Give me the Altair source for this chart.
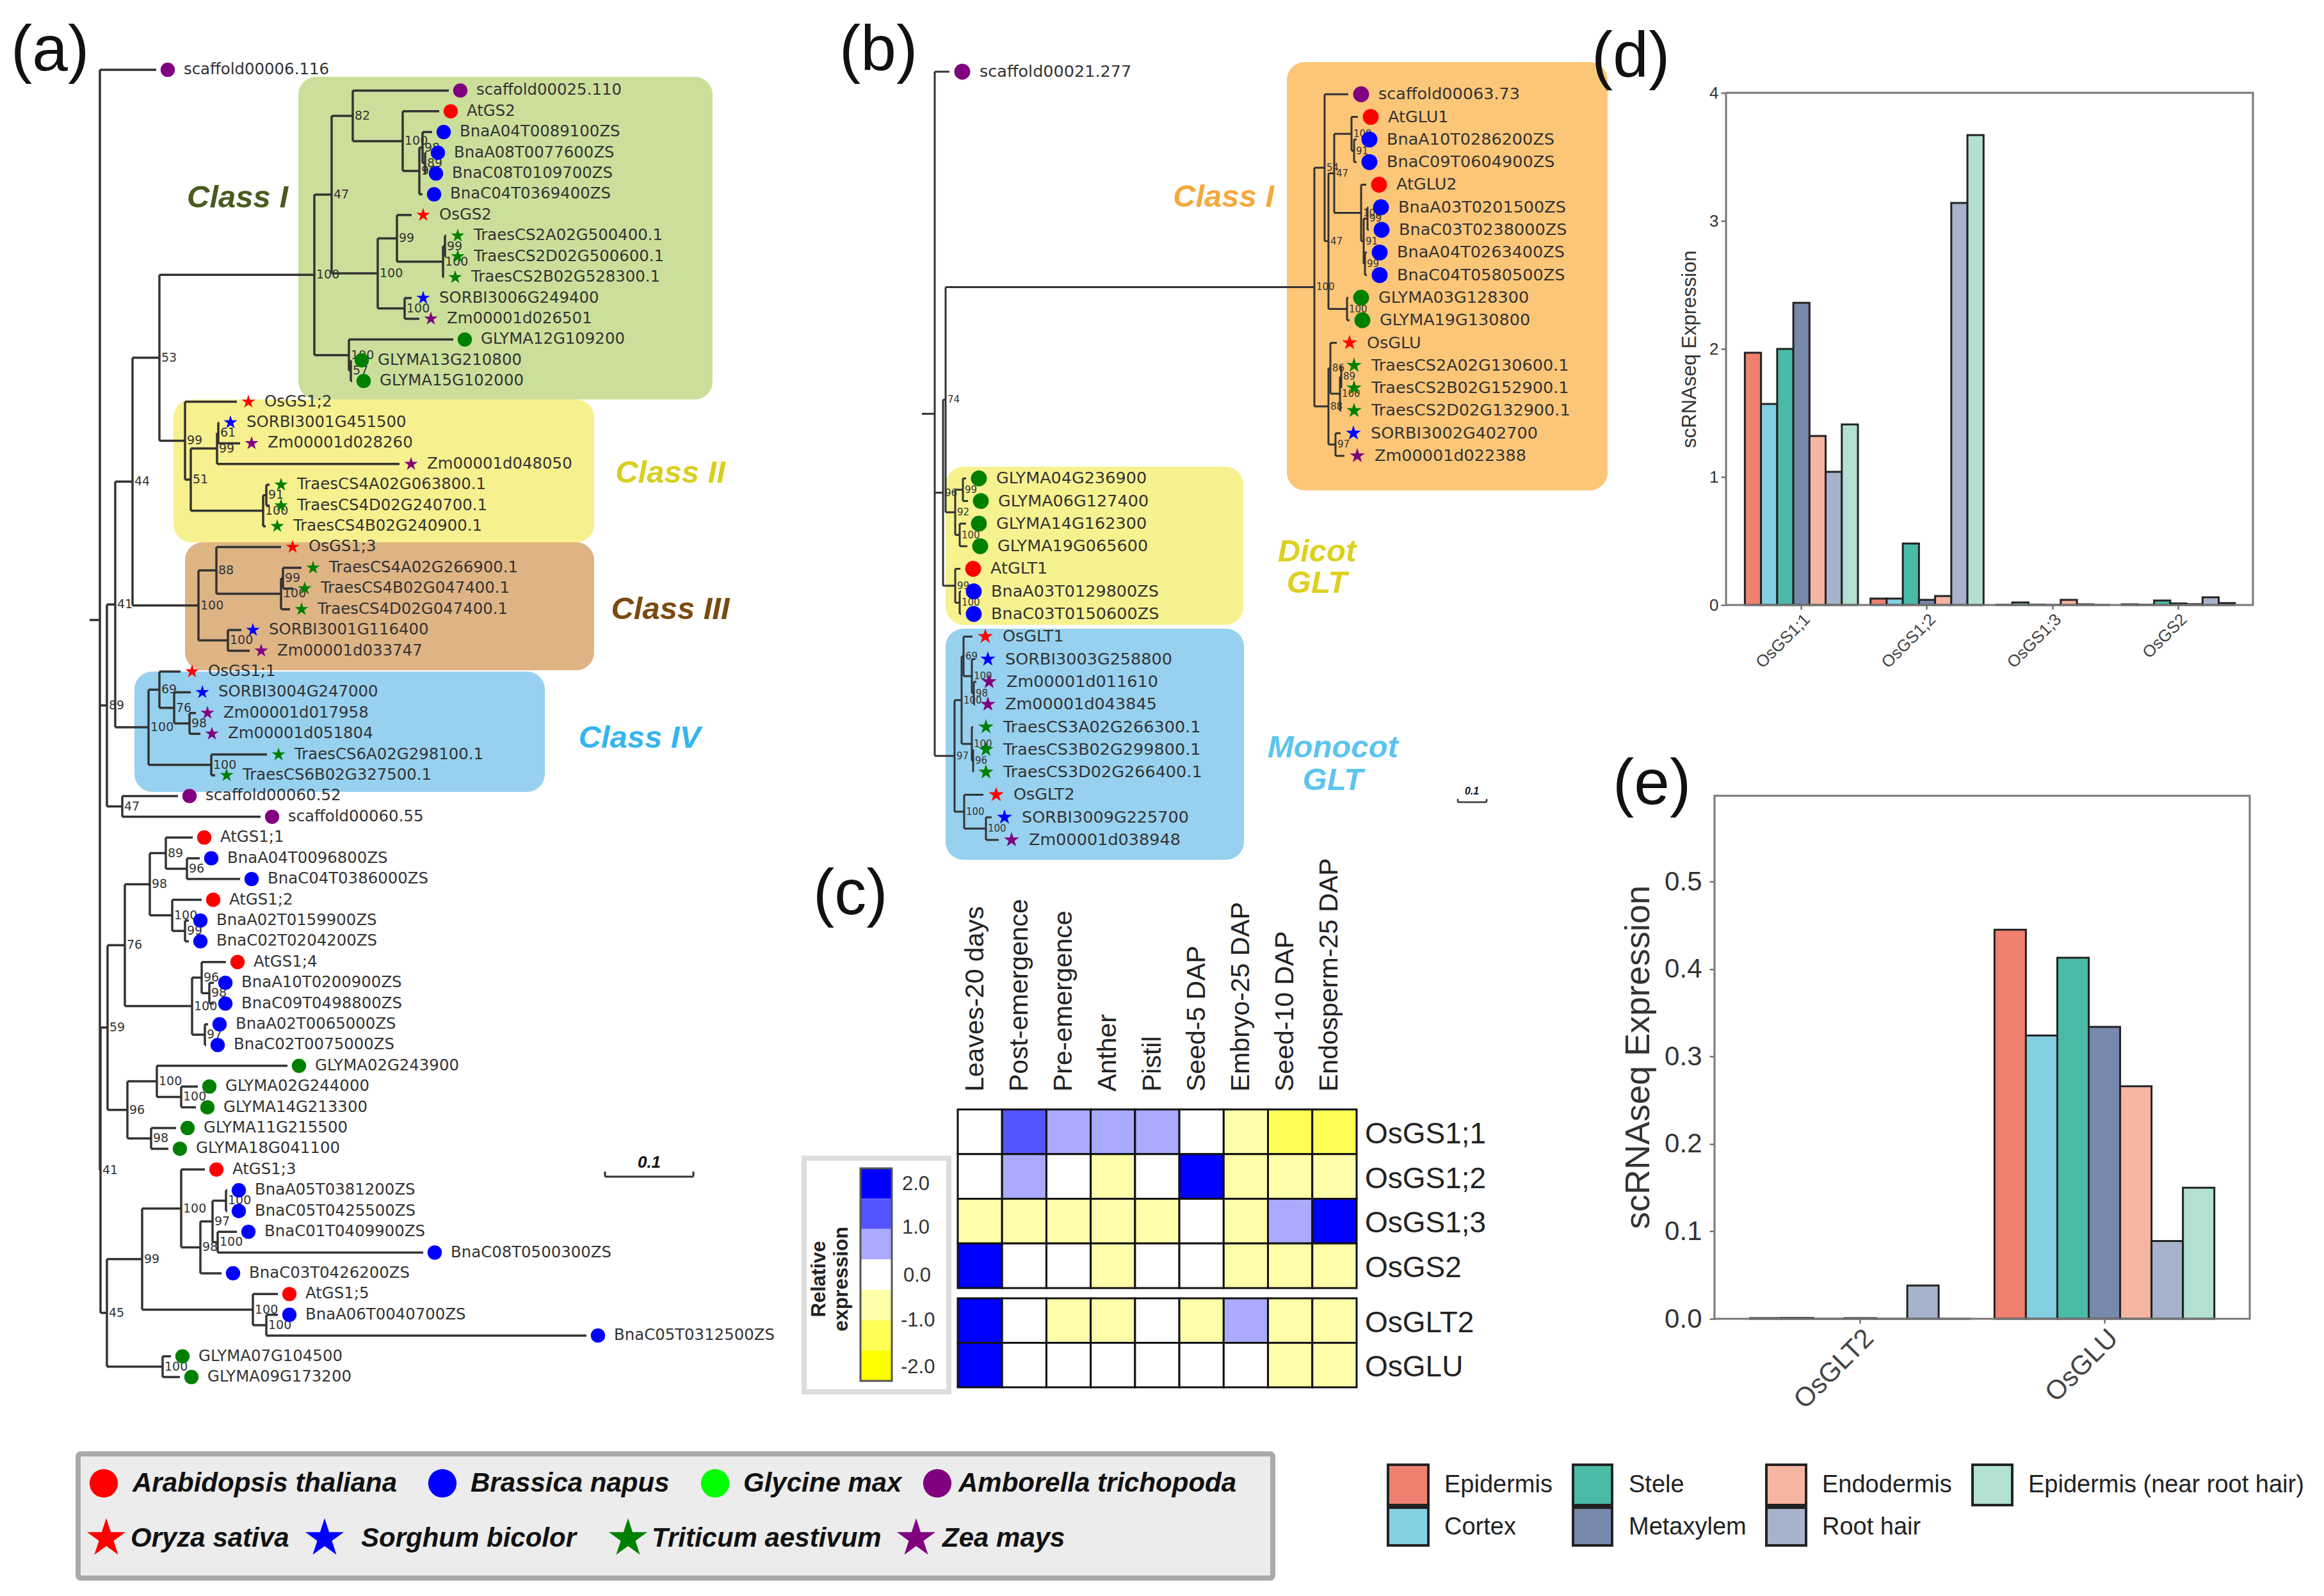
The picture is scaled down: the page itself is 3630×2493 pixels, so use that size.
import altair as alt
import pandas as pd

W, H = 3614, 2477
FONT = "Liberation Sans"
TREE_FONT = "DejaVu Sans"
STAR = "M0,-1L0.2245,-0.309L0.9511,-0.309L0.3633,0.118L0.5878,0.809L0,0.382L-0.5878,0.809L-0.3633,0.118L-0.9511,-0.309L-0.2245,-0.309Z"

SPECIES = ["At", "Bn", "Gm", "Am", "Os", "Sb", "Ta", "Zm", "GmKey"]
SPECIES_COLORS = ["#ff0000", "#0000ff", "#008000", "#800080", "#ff0000", "#0000ff", "#008000", "#800080", "#00ff00"]
SPECIES_SHAPES = ["circle", "circle", "circle", "circle", STAR, STAR, STAR, STAR, "circle"]

# Trees: node = [depth, support, children]; leaf = (name, species, depth)
TREE_A = [156, "", [
    ("scaffold00006.116", "Am", 262),
    [167, "89", [
        [180, "41", [
            [207, "44", [
                [249, "53", [
                    [491, "100", [
                        [518, "47", [
                            [551, "82", [
                                ("scaffold00025.110", "Am", 719),
                                [629, "100", [
                                    ("AtGS2", "At", 704),
                                    [655, "96", [
                                        [660, "98", [
                                            ("BnaA04T0089100ZS", "Bn", 693),
                                            [664, "89", [("BnaA08T0077600ZS", "Bn", 684), ("BnaC08T0109700ZS", "Bn", 681)]],
                                        ]],
                                        ("BnaC04T0369400ZS", "Bn", 678),
                                    ]],
                                ]],
                            ]],
                            [590, "100", [
                                [620, "99", [
                                    ("OsGS2", "Os", 661),
                                    [692, "100", [
                                        [695, "99", [("TraesCS2A02G500400.1", "Ta", 715), ("TraesCS2D02G500600.1", "Ta", 715)]],
                                        ("TraesCS2B02G528300.1", "Ta", 711),
                                    ]],
                                ]],
                                [632, "100", [("SORBI3006G249400", "Sb", 661), ("Zm00001d026501", "Zm", 673)]],
                            ]],
                        ]],
                        [545, "100", [
                            ("GLYMA12G109200", "Gm", 726),
                            [548, "57", [("GLYMA13G210800", "Gm", 565), ("GLYMA15G102000", "Gm", 568)]],
                        ]],
                    ]],
                    [289, "99", [
                        ("OsGS1;2", "Os", 388),
                        [298, "51", [
                            [339, "99", [
                                [341, "61", [("SORBI3001G451500", "Sb", 360), ("Zm00001d028260", "Zm", 393)]],
                                ("Zm00001d048050", "Zm", 642),
                            ]],
                            [411, "100", [
                                [416, "91", [("TraesCS4A02G063800.1", "Ta", 439), ("TraesCS4D02G240700.1", "Ta", 439)]],
                                ("TraesCS4B02G240900.1", "Ta", 433),
                            ]],
                        ]],
                    ]],
                ]],
                [310, "100", [
                    [338, "88", [
                        ("OsGS1;3", "Os", 457),
                        [439, "100", [
                            [442, "99", [("TraesCS4A02G266900.1", "Ta", 489), ("TraesCS4B02G047400.1", "Ta", 476)]],
                            ("TraesCS4D02G047400.1", "Ta", 471),
                        ]],
                    ]],
                    [356, "100", [("SORBI3001G116400", "Sb", 395), ("Zm00001d033747", "Zm", 408)]],
                ]],
            ]],
            [232, "100", [
                [249, "69", [
                    ("OsGS1;1", "Os", 300),
                    [272, "76", [
                        ("SORBI3004G247000", "Sb", 316),
                        [296, "98", [("Zm00001d017958", "Zm", 324), ("Zm00001d051804", "Zm", 331)]],
                    ]],
                ]],
                [330, "100", [("TraesCS6A02G298100.1", "Ta", 435), ("TraesCS6B02G327500.1", "Ta", 354)]],
            ]],
        ]],
        [191, "47", [("scaffold00060.52", "Am", 296), ("scaffold00060.55", "Am", 425)]],
    ]],
    [157, "41", [
        [168, "59", [
            [195, "76", [
                [234, "98", [
                    [259, "89", [
                        ("AtGS1;1", "At", 319),
                        [292, "96", [("BnaA04T0096800ZS", "Bn", 330), ("BnaC04T0386000ZS", "Bn", 393)]],
                    ]],
                    [269, "100", [
                        ("AtGS1;2", "At", 333),
                        [289, "99", [("BnaA02T0159900ZS", "Bn", 313), ("BnaC02T0204200ZS", "Bn", 313)]],
                    ]],
                ]],
                [300, "100", [
                    [315, "96", [
                        ("AtGS1;4", "At", 371),
                        [327, "98", [("BnaA10T0200900ZS", "Bn", 352), ("BnaC09T0498800ZS", "Bn", 352)]],
                    ]],
                    [320, "97", [("BnaA02T0065000ZS", "Bn", 343), ("BnaC02T0075000ZS", "Bn", 340)]],
                ]],
            ]],
            [199, "96", [
                [245, "100", [
                    ("GLYMA02G243900", "Gm", 467),
                    [283, "100", [("GLYMA02G244000", "Gm", 327), ("GLYMA14G213300", "Gm", 324)]],
                ]],
                [236, "98", [("GLYMA11G215500", "Gm", 293), ("GLYMA18G041100", "Gm", 281)]],
            ]],
        ]],
        [167, "45", [
            [222, "99", [
                [283, "100", [
                    ("AtGS1;3", "At", 338),
                    [313, "98", [
                        [332, "97", [
                            [353, "100", [("BnaA05T0381200ZS", "Bn", 373), ("BnaC05T0425500ZS", "Bn", 373)]],
                            [340, "100", [("BnaC01T0409900ZS", "Bn", 388), ("BnaC08T0500300ZS", "Bn", 679)]],
                        ]],
                        ("BnaC03T0426200ZS", "Bn", 364),
                    ]],
                ]],
                [395, "100", [
                    ("AtGS1;5", "At", 452),
                    [416, "100", [("BnaA06T0040700ZS", "Bn", 452), ("BnaC05T0312500ZS", "Bn", 934)]],
                ]],
            ]],
            [254, "100", [("GLYMA07G104500", "Gm", 285), ("GLYMA09G173200", "Gm", 299)]],
        ]],
    ]],
]]

TREE_B = [1460, "", [
    ("scaffold00021.277", "Am", 1503),
    [1473, "96", [
        [1477, "74", [
            [2053, "100", [
                [2069, "54", [
                    ("scaffold00063.73", "Am", 2126),
                    [2075, "47", [
                        [2084, "47", [
                            [2111, "100", [
                                ("AtGLU1", "At", 2141),
                                [2115, "91", [("BnaA10T0286200ZS", "Bn", 2139), ("BnaC09T0604900ZS", "Bn", 2139)]],
                            ]],
                            [2126, "100", [
                                ("AtGLU2", "At", 2154),
                                [2130, "91", [
                                    [2136, "99", [("BnaA03T0201500ZS", "Bn", 2157), ("BnaC03T0238000ZS", "Bn", 2158)]],
                                    [2132, "99", [("BnaA04T0263400ZS", "Bn", 2155), ("BnaC04T0580500ZS", "Bn", 2155)]],
                                ]],
                            ]],
                        ]],
                        [2104, "100", [("GLYMA03G128300", "Gm", 2126), ("GLYMA19G130800", "Gm", 2128)]],
                    ]],
                ]],
                [2075, "88", [
                    [2078, "86", [
                        ("OsGLU", "Os", 2108),
                        [2093, "100", [
                            [2095, "89", [("TraesCS2A02G130600.1", "Ta", 2115), ("TraesCS2B02G152900.1", "Ta", 2115)]],
                            ("TraesCS2D02G132900.1", "Ta", 2115),
                        ]],
                    ]],
                    [2086, "97", [("SORBI3002G402700", "Sb", 2114), ("Zm00001d022388", "Zm", 2120)]],
                ]],
            ]],
            [1492, "92", [
                [1504, "99", [("GLYMA04G236900", "Gm", 1529), ("GLYMA06G127400", "Gm", 1532)]],
                [1499, "100", [("GLYMA14G162300", "Gm", 1529), ("GLYMA19G065600", "Gm", 1531)]],
            ]],
        ]],
        [1492, "99", [
            ("AtGLT1", "At", 1520),
            [1499, "100", [("BnaA03T0129800ZS", "Bn", 1521), ("BnaC03T0150600ZS", "Bn", 1521)]],
        ]],
    ]],
    [1491, "97", [
        [1502, "100", [
            [1505, "69", [
                ("OsGLT1", "Os", 1539),
                [1518, "100", [
                    ("SORBI3003G258800", "Sb", 1543),
                    [1521, "98", [("Zm00001d011610", "Zm", 1545), ("Zm00001d043845", "Zm", 1543)]],
                ]],
            ]],
            [1518, "100", [
                ("TraesCS3A02G266300.1", "Ta", 1540),
                [1520, "96", [("TraesCS3B02G299800.1", "Ta", 1540), ("TraesCS3D02G266400.1", "Ta", 1540)]],
            ]],
        ]],
        [1506, "100", [
            ("OsGLT2", "Os", 1556),
            [1540, "100", [("SORBI3009G225700", "Sb", 1569), ("Zm00001d038948", "Zm", 1580)]],
        ]],
    ]],
]]

# Clade boxes: x0, x1, y0, y1, colour
BOX_X0 = [466, 271, 289, 210, 2010, 1477, 1477]
BOX_X1 = [1113, 928, 928, 851, 2511, 1942, 1943]
BOX_Y0 = [120, 624, 847, 1049, 97, 729, 982]
BOX_Y1 = [624, 847, 1047, 1237, 766, 976, 1343]
BOX_COLORS = ["#cbdf9b", "#f7f08e", "#deb485", "#97d1ef", "#fcc678", "#f7f290", "#97d1ef"]

# Expression charts
TISSUES = ["Epidermis", "Cortex", "Stele", "Metaxylem", "Endodermis", "Root hair", "Epidermis (near root hair)"]
TISSUE_COLORS = ["#ef8070", "#84d0e3", "#4abba6", "#7888ac", "#f6b5a1", "#a7b2cb", "#b2e0d2"]
D_GENES = ["OsGS1;1", "OsGS1;2", "OsGS1;3", "OsGS2"]
D_VALUES = [
    [1.97, 1.57, 2.00, 2.36, 1.32, 1.04, 1.41],
    [0.05, 0.05, 0.48, 0.04, 0.07, 3.14, 3.67],
    [0.002, 0.02, 0.003, 0.001, 0.04, 0.005, 0.001],
    [0.005, 0.002, 0.035, 0.012, 0.006, 0.06, 0.015],
]
E_GENES = ["OsGLT2", "OsGLU"]
E_VALUES = [
    [0.0008, 0.001, 0.0, 0.0008, 0.0, 0.038, 0.0],
    [0.445, 0.324, 0.413, 0.334, 0.266, 0.089, 0.150],
]

# Heatmap
HEAT_COLS = ["Leaves-20 days", "Post-emergence", "Pre-emergence", "Anther", "Pistil", "Seed-5 DAP",
             "Embryo-25 DAP", "Seed-10 DAP", "Endosperm-25 DAP"]
HEAT_ROWS_1 = ["OsGS1;1", "OsGS1;2", "OsGS1;3", "OsGS2"]
HEAT_ROWS_2 = ["OsGLT2", "OsGLU"]
HEAT_VALUES_1 = [
    [0, 2, 1, 1, 1, 0, -1, -2, -2],
    [0, 1, 0, -1, 0, 3, -1, -1, -1],
    [-1, -1, -1, -1, -1, 0, -1, 1, 3],
    [3, 0, 0, -1, 0, 0, -1, -1, -1],
]
HEAT_VALUES_2 = [
    [3, 0, -1, -1, 0, -1, 1, -1, -1],
    [3, 0, 0, 0, 0, 0, 0, -1, -1],
]
LEVELS = [3, 2, 1, 0, -1, -2, -3]
LEVEL_COLORS = ["#0000ff", "#5555ff", "#aaaaff", "#ffffff", "#ffffaa", "#ffff55", "#ffff00"]

# Species key
KEY_NAMES = ["Arabidopsis thaliana", "Brassica napus", "Glycine max", "Amborella trichopoda",
             "Oryza sativa", "Sorghum bicolor", "Triticum aestivum", "Zea mays"]
KEY_SPECIES = ["At", "Bn", "GmKey", "Am", "Os", "Sb", "Ta", "Zm"]
KEY_MARK_X = [162, 691, 1117, 1464, 166, 507, 981, 1431]
KEY_TEXT_X = [207, 735, 1161, 1497, 204, 564, 1018, 1472]
KEY_Y = [2317, 2317, 2317, 2317, 2403, 2403, 2403, 2403]
KEY_SIZE = [1960, 1960, 1960, 1960, 4000, 4000, 4000, 4000]

# Tissue key
TKEY_X0 = [2168, 2168, 2457, 2457, 2759, 2759, 3081]
TKEY_X1 = [2231, 2231, 2518, 2518, 2821, 2821, 3143]
TKEY_Y0 = [2288, 2355, 2288, 2355, 2288, 2355, 2288]
TKEY_Y1 = [2351, 2414, 2351, 2414, 2351, 2414, 2351]
TKEY_NAMES = ["Epidermis", "Cortex", "Stele", "Metaxylem", "Endodermis", "Root hair", "Epidermis (near root hair)"]
TKEY_TX = [2256, 2256, 2544, 2544, 2846, 2846, 3168]

# Free text
PANEL_T = ["(a)", "(b)", "(c)", "(d)", "(e)"]
PANEL_X = [17, 1311, 1270, 2486, 2519]
PANEL_Y = [110, 110, 1428, 120, 1256]
CLASS_T = ["Class I", "Class II", "Class III", "Class IV", "Class I", "Dicot", "GLT", "Monocot", "GLT"]
CLASS_X = [371, 1047, 1047, 999, 1911, 2057, 2057, 2082, 2082]
CLASS_Y = [309, 739, 952, 1153, 308, 862, 911, 1168, 1219]
CLASS_C = ["#4b5a1e", "#d9ce1e", "#7a4a10", "#33b5f0", "#f5a93c", "#ddd020", "#ddd020", "#5cc4ee", "#5cc4ee"]

CX = alt.Scale(domain=[0, 3630], range=[-8, 3622], nice=False, zero=False)
CY = alt.Scale(domain=[0, 2493], range=[-8, 2485], nice=False, zero=False)


def walk(tree, root_start, gap):
    edges, nodes, leaves = [], [], []

    def rec(n, parent_x):
        if isinstance(n, tuple):
            i = len(leaves)
            leaves.append({"name": n[0], "sp": n[1], "d": n[2], "i": i})
            edges.append({"x": parent_x, "x2": max(parent_x, n[2] - gap), "y": i, "y2": i})
            return i
        ys = [rec(c, n[0]) for c in n[2]]
        y = (ys[0] + ys[-1]) / 2
        edges.append({"x": n[0], "x2": n[0], "y": ys[0], "y2": ys[-1]})
        edges.append({"x": parent_x, "x2": n[0], "y": y, "y2": y})
        if n[1]:
            nodes.append({"d": n[0], "i": y, "t": n[1]})
        return y

    rec(tree, root_start)
    return pd.DataFrame(edges), pd.DataFrame(nodes), pd.DataFrame(leaves)


def tree_layers(tree, root_start, n_last, y_first, y_last, psize, tsize, lab_size, sw, gap, tx):
    edges, nodes, leaves = walk(tree, root_start, gap)
    ys = alt.Scale(domain=[0, n_last], range=[y_first - 8, y_last - 8], nice=False, zero=False)
    out = []
    out.append(alt.Chart(edges).mark_rule(strokeWidth=sw, color="#333333").encode(
        x=alt.X("x:Q", scale=CX, axis=None), x2="x2:Q",
        y=alt.Y("y:Q", scale=ys, axis=None), y2="y2:Q"))
    out.append(alt.Chart(nodes).mark_text(fontSize=lab_size, font=TREE_FONT, color="#333333", align="left", baseline="middle", dx=3).encode(
        x=alt.X("d:Q", scale=CX, axis=None), y=alt.Y("i:Q", scale=ys, axis=None), text="t:N"))
    out.append(alt.Chart(leaves).mark_point(filled=True, size=psize, opacity=1, strokeWidth=0).encode(
        x=alt.X("d:Q", scale=CX, axis=None), y=alt.Y("i:Q", scale=ys, axis=None),
        color=alt.Color("sp:N", scale=alt.Scale(domain=SPECIES, range=SPECIES_COLORS), legend=None),
        shape=alt.Shape("sp:N", scale=alt.Scale(domain=SPECIES, range=SPECIES_SHAPES), legend=None)))
    out.append(alt.Chart(leaves).mark_text(fontSize=tsize, font=TREE_FONT, color="#333333", align="left", baseline="middle", dx=tx).encode(
        x=alt.X("d:Q", scale=CX, axis=None), y=alt.Y("i:Q", scale=ys, axis=None), text="name:N"))
    return out


def txt(t, x, y, size, color="#222222", weight="normal", style="normal", align="left", angle=0, baseline="middle"):
    df = pd.DataFrame({"t": t, "x": x, "y": y})
    return alt.Chart(df).mark_text(fontSize=size, font=FONT, color=color, fontWeight=weight, fontStyle=style,
                                   align=align, angle=angle, baseline=baseline).encode(
        x=alt.X("x:Q", scale=CX, axis=None), y=alt.Y("y:Q", scale=CY, axis=None), text="t:N")


def segs(x, x2, y, y2, color, sw):
    df = pd.DataFrame({"x": x, "x2": x2, "y": y, "y2": y2})
    return alt.Chart(df).mark_rule(color=color, strokeWidth=sw).encode(
        x=alt.X("x:Q", scale=CX, axis=None), x2="x2:Q", y=alt.Y("y:Q", scale=CY, axis=None), y2="y2:Q")


def rects(x, x2, y, y2, fills, **kw):
    df = pd.DataFrame({"x": x, "x2": x2, "y": y, "y2": y2, "f": fills})
    return alt.Chart(df).mark_rect(**kw).encode(
        x=alt.X("x:Q", scale=CX, axis=None), x2="x2:Q", y=alt.Y("y:Q", scale=CY, axis=None), y2="y2:Q",
        fill=alt.Fill("f:N", scale=None))


def bars(genes, values, xr, yr, dom, ticks, fmt, off_x, off_y, lab, lab_x, tit, tit_pad, sw, pad_lab, xpad=2):
    rows = [{"gene": g, "tissue": t, "v": values[i][j]} for i, g in enumerate(genes) for j, t in enumerate(TISSUES)]
    band = (xr[1] - xr[0]) / len(genes) * 0.9
    return alt.Chart(pd.DataFrame(rows)).mark_bar(stroke="#222222", strokeWidth=sw, opacity=1).encode(
        x=alt.X("gene:N", sort=None,
                scale=alt.Scale(domain=genes, range=xr, paddingInner=0.1, paddingOuter=0.05),
                axis=alt.Axis(orient="bottom", offset=off_y, title=None, labelAngle=-45, labelFontSize=lab_x, labelFont=FONT,
                              labelColor="#444444", domain=False, tickColor="#555555", tickSize=7, tickWidth=2,
                              labelPadding=xpad, grid=False, labelAlign="right", labelBaseline="top")),
        xOffset=alt.XOffset("tissue:N", sort=None, scale=alt.Scale(domain=TISSUES, range=[0, band])),
        y=alt.Y("v:Q", scale=alt.Scale(domain=dom, range=yr, nice=False, zero=True),
                axis=alt.Axis(orient="left", offset=off_x, values=ticks, format=fmt, title="scRNAseq Expression",
                              titleFont=FONT, titleFontSize=tit, titleFontWeight="normal", titleColor="#333333",
                              titlePadding=tit_pad, labelFont=FONT, labelFontSize=lab, labelColor="#333333",
                              domain=False, tickColor="#555555", tickSize=8, tickWidth=2, labelPadding=pad_lab, grid=False)),
        color=alt.Color("tissue:N", scale=alt.Scale(domain=TISSUES, range=TISSUE_COLORS), legend=None))


def heat(rows, values, y0, y1):
    recs = [{"r": r, "c": c, "v": values[i][j]} for i, r in enumerate(rows) for j, c in enumerate(HEAT_COLS)]
    return alt.Chart(pd.DataFrame(recs)).mark_rect(stroke="#111111", strokeWidth=3).encode(
        x=alt.X("c:N", sort=None, axis=None,
                scale=alt.Scale(domain=HEAT_COLS, range=[1488, 2111], paddingInner=0, paddingOuter=0)),
        y=alt.Y("r:N", sort=None, axis=None,
                scale=alt.Scale(domain=rows, range=[y0 - 8, y1 - 8], paddingInner=0, paddingOuter=0)),
        fill=alt.Fill("v:O", scale=alt.Scale(domain=LEVELS, range=LEVEL_COLORS), legend=None))


layers = []
# clade boxes
layers.append(rects(BOX_X0, BOX_X1, BOX_Y0, BOX_Y1, BOX_COLORS, cornerRadius=28))

# trees
layers += tree_layers(TREE_A, 140, 63, 109, 2151, 500, 24.4, 19, 3.5, 18, 25)
layers += tree_layers(TREE_B, 1440, 34, 112, 1312, 620, 25.5, 15, 3, 20, 27)

# scale bars
layers.append(segs([945, 945, 1083], [1083, 945, 1083], [1838, 1830, 1830], [1838, 1838, 1838], "#333333", 3))
layers.append(txt(["0.1"], [1014], [1816], 26, "#111111", "bold", "italic", "center"))
layers.append(segs([2277, 2277, 2322], [2322, 2277, 2322], [1253, 1248, 1248], [1253, 1253, 1253], "#333333", 2.5))
layers.append(txt(["0.1"], [2299], [1236], 16, "#111111", "bold", "italic", "center"))

# panel letters & class labels
layers.append(txt(PANEL_T, PANEL_X, PANEL_Y, 100, "#111111", baseline="alphabetic"))
layers.append(alt.Chart(pd.DataFrame({"t": CLASS_T, "x": CLASS_X, "y": CLASS_Y, "c": CLASS_C})).mark_text(
    fontSize=49, font=FONT, fontWeight="bold", fontStyle="italic", align="center", baseline="middle").encode(
    x=alt.X("x:Q", scale=CX, axis=None), y=alt.Y("y:Q", scale=CY, axis=None), text="t:N",
    color=alt.Color("c:N", scale=None)))

# heatmap
layers.append(heat(HEAT_ROWS_1, HEAT_VALUES_1, 1733, 2012))
layers.append(heat(HEAT_ROWS_2, HEAT_VALUES_2, 2028, 2167))
layers.append(alt.Chart(pd.DataFrame({"c": HEAT_COLS, "y": [1705] * 9})).mark_text(
    fontSize=41, font=FONT, color="#222222", angle=270, align="left", baseline="middle", dy=-7).encode(
    x=alt.X("c:N", sort=None, axis=None,
            scale=alt.Scale(domain=HEAT_COLS, range=[1488, 2111], paddingInner=0, paddingOuter=0)),
    y=alt.Y("y:Q", scale=CY, axis=None), text="c:N"))
layers.append(txt(HEAT_ROWS_1 + HEAT_ROWS_2, [2132] * 6, [1772, 1842, 1911, 1981, 2067, 2136], 46))

# heatmap colour key
layers.append(rects([1256], [1482], [1809], [2174], ["#ffffff"], stroke="#dddddd", strokeWidth=8))
layers.append(alt.Chart(pd.DataFrame({"l": LEVELS, "x": [1344] * 7, "x2": [1393] * 7})).mark_rect().encode(
    x=alt.X("x:Q", scale=CX, axis=None), x2="x2:Q",
    y=alt.Y("l:O", sort=None, axis=None,
            scale=alt.Scale(domain=LEVELS, range=[1817, 2149], paddingInner=0, paddingOuter=0)),
    fill=alt.Fill("l:O", scale=alt.Scale(domain=LEVELS, range=LEVEL_COLORS), legend=None)))
layers.append(rects([1344], [1393], [1825], [2157], ["transparent"], stroke="#555555", strokeWidth=3))
layers.append(txt(["2.0", "1.0", "0.0", "-1.0", "-2.0"], [1409, 1409, 1411, 1407, 1407],
                  [1850, 1918, 1993, 2063, 2136], 31, "#333333"))
layers.append(txt(["Relative", "expression"], [1280, 1315], [1998, 1998], 31, "#222222", "bold", align="center", angle=270))

# bar charts
layers.append(bars(D_GENES, D_VALUES, [2707.6, 3492.6], [937, 137], [0, 4], [0, 1, 2, 3, 4], "d",
                   -(2696 - 8), -(H - 937), 26, 26, 31, 14, 3, 4))
layers.append(bars(E_GENES, E_VALUES, [2706.7, 3469.8], [2052, 1234], [0, 0.599], [0, 0.1, 0.2, 0.3, 0.4, 0.5], ".1f",
                   -(2678 - 8), -(H - 2052), 42, 42, 54, 13, 3, 12))
layers.append(rects([2696, 2678], [3519, 3514], [145, 1243], [945, 2060], ["transparent", "transparent"],
                    stroke="#777777", strokeWidth=3))

# species key
layers.append(rects([122], [1988], [2271], [2465], ["#ececec"], stroke="#aaaaaa", strokeWidth=8, cornerRadius=4))
key = pd.DataFrame({"sp": KEY_SPECIES, "x": KEY_MARK_X, "y": KEY_Y, "s": KEY_SIZE})
layers.append(alt.Chart(key).mark_point(filled=True, opacity=1, strokeWidth=0).encode(
    x=alt.X("x:Q", scale=CX, axis=None), y=alt.Y("y:Q", scale=CY, axis=None),
    size=alt.Size("s:Q", scale=None),
    color=alt.Color("sp:N", scale=alt.Scale(domain=SPECIES, range=SPECIES_COLORS), legend=None),
    shape=alt.Shape("sp:N", scale=alt.Scale(domain=SPECIES, range=SPECIES_SHAPES), legend=None)))
layers.append(txt(KEY_NAMES, KEY_TEXT_X, KEY_Y, 42, "#111111", "bold", "italic"))

# tissue key
layers.append(rects(TKEY_X0, TKEY_X1, TKEY_Y0, TKEY_Y1, TISSUE_COLORS, stroke="#222222", strokeWidth=4))
layers.append(txt(TKEY_NAMES, TKEY_TX, [2320, 2386, 2320, 2386, 2320, 2386, 2320], 38))

chart = alt.layer(*layers).resolve_scale(x="independent", y="independent", xOffset="independent", color="independent",
                                         shape="independent", fill="independent", size="independent").properties(
    width=W, height=H, padding=0, autosize=alt.AutoSizeParams(type="none"), background="white"
).configure_view(stroke=None)

chart.save("out.html", embed_options={"renderer": "svg", "actions": False})
